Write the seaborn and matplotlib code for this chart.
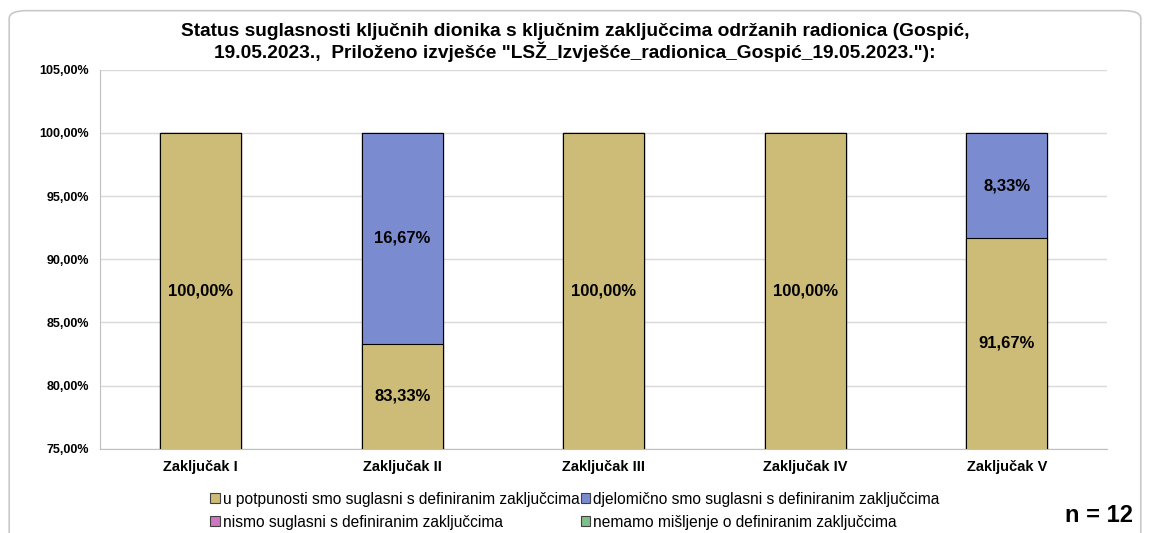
import matplotlib
matplotlib.use('Agg')
import matplotlib.pyplot as plt
import seaborn as sns
import pandas as pd
from matplotlib.patches import Patch, FancyBboxPatch
from matplotlib.ticker import FuncFormatter

categories = ['Zaključak I', 'Zaključak II', 'Zaključak III', 'Zaključak IV', 'Zaključak V']
potpuno = [100.0, 83.33, 100.0, 100.0, 91.67]
djelomicno = [0.0, 16.67, 0.0, 0.0, 8.33]
nismo = [0.0, 0.0, 0.0, 0.0, 0.0]
nemamo = [0.0, 0.0, 0.0, 0.0, 0.0]
series_names = ['u potpunosti smo suglasni s definiranim zaključcima',
                'djelomično smo suglasni s definiranim zaključcima',
                'nismo suglasni s definiranim zaključcima',
                'nemamo mišljenje o definiranim zaključcima']
colors = ['#CDBB78', '#7B8BD0', '#CC77C0', '#7FC08A']

sns.set_style('white')
plt.rcParams['font.family'] = ['Liberation Sans', 'DejaVu Sans']
plt.rcParams['text.color'] = 'black'
plt.rcParams['xtick.color'] = 'black'
plt.rcParams['ytick.color'] = 'black'

df = pd.DataFrame({'kat': categories, 'p': potpuno, 'd': djelomicno, 'ni': nismo, 'ne': nemamo})
df['c2'] = df['p'] + df['d']
df['c3'] = df['c2'] + df['ni']
df['c4'] = df['c3'] + df['ne']

fig = plt.figure(figsize=(11.5, 5.33), dpi=100)
border = FancyBboxPatch((0.008, -0.05), 0.984, 1.03, boxstyle='round,pad=0,rounding_size=0.015',
                        transform=fig.transFigure, fc='none', ec='#C8C8C8', lw=1.2, zorder=10)
fig.patches.append(border)
ax = fig.add_axes([0.087, 0.158, 0.876, 0.711])

# stacked: draw cumulative totals from back to front
for col, c in zip(['c4', 'c3', 'c2', 'p'], [colors[3], colors[2], colors[1], colors[0]]):
    sns.barplot(data=df, x='kat', y=col, color=c, width=0.4, edgecolor='black', linewidth=0.8,
                ax=ax, saturation=1, zorder=3)

ax.set_ylim(75, 105)
ax.set_yticks([75, 80, 85, 90, 95, 100, 105])
ax.yaxis.set_major_formatter(FuncFormatter(lambda v, p: f'{v:.2f}%'.replace('.', ',')))
ax.grid(axis='y', color='#D9D9D9', lw=1, zorder=0)
ax.set_axisbelow(True)
ax.set_xlabel('')
ax.set_ylabel('')
for s in ['top', 'right']:
    ax.spines[s].set_visible(False)
for s in ['left', 'bottom']:
    ax.spines[s].set_color('#BFBFBF')
ax.tick_params(axis='y', labelsize=9, length=0, pad=8)
ax.tick_params(axis='x', labelsize=10.5, length=0, pad=8)
for t in ax.get_xticklabels() + ax.get_yticklabels():
    t.set_fontweight('bold')

lo = 75
for i, (p, d) in enumerate(zip(potpuno, djelomicno)):
    ax.text(i, (p + lo) / 2, f'{p:.2f}%'.replace('.', ','),
            ha='center', va='center', fontsize=12, fontweight='bold', zorder=5)
    if d > 0:
        ax.text(i, p + d / 2, f'{d:.2f}%'.replace('.', ','),
                ha='center', va='center', fontsize=12, fontweight='bold', zorder=5)

fig.text(0.5, 0.92, 'Status suglasnosti ključnih dionika s ključnim zaključcima održanih radionica (Gospić,\n'
         '19.05.2023.,  Priloženo izvješće "LSŽ_Izvješće_radionica_Gospić_19.05.2023."):',
         ha='center', va='center', fontsize=13.8, fontweight='bold', linespacing=1.1)

handles = [Patch(facecolor=c, edgecolor='#404040', lw=0.8) for c in colors]
order = [0, 2, 1, 3]
fig.legend([handles[k] for k in order], [series_names[k] for k in order], loc='center',
           bbox_to_anchor=(0.5, 0.042), ncol=2, frameon=False,
           fontsize=11.2, handlelength=0.6, handleheight=0.6, handletextpad=0.2, columnspacing=0.1,
           labelspacing=0.5)

fig.text(0.985, 0.032, 'n = 12', ha='right', va='center', fontsize=17, fontweight='bold')

fig.savefig('out.png', dpi=100)
